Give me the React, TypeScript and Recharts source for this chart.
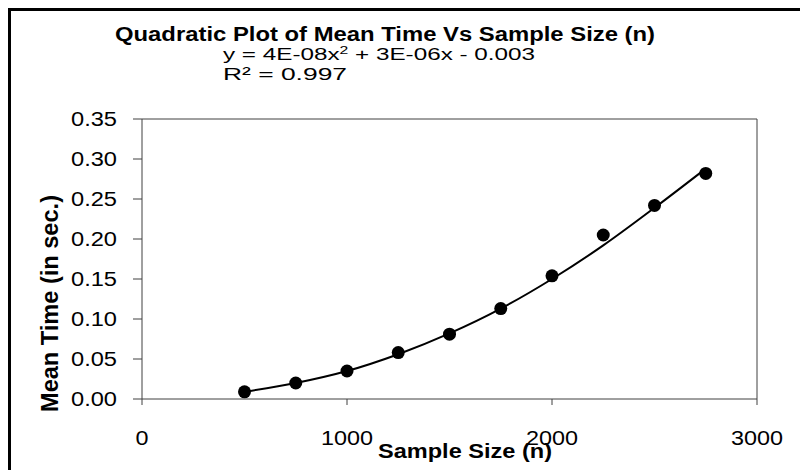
import { ComposedChart, Line, Scatter, XAxis, YAxis, ReferenceLine } from 'recharts'

// values
const sampleSizes = [500, 750, 1000, 1250, 1500, 1750, 2000, 2250, 2500, 2750]
const meanTimes = [0.009, 0.02, 0.035, 0.058, 0.081, 0.113, 0.154, 0.205, 0.242, 0.282]
const trendValues = [0.009, 0.02, 0.035, 0.056, 0.082, 0.113, 0.15, 0.192, 0.239, 0.288]
const xTicks = [0, 1000, 2000, 3000]
const yTicks = [0, 0.05, 0.1, 0.15, 0.2, 0.25, 0.3, 0.35]

const chartTitle = 'Quadratic Plot of Mean Time Vs Sample Size (n)'
const xLabel = 'Sample Size (n)'
const yLabel = 'Mean Time (in sec.)'

const points = sampleSizes.map((n, i) => ({ n, time: meanTimes[i] }))
const trend = sampleSizes.map((n, i) => ({ n, trend: trendValues[i] }))

const FONT = '"Liberation Sans", Arial, sans-serif'
const AXIS = '#404040'

function YTick({ x, y, payload }: any) {
  return (
    <text x={x} y={y} dy={7} textAnchor="end" fontSize={20} fontFamily={FONT} fill="#000"
      textLength={46} lengthAdjust="spacingAndGlyphs">
      {Number(payload.value).toFixed(2)}
    </text>
  )
}

function XTick({ x, y, payload }: any) {
  const label = String(payload.value)
  return (
    <text x={x} y={y} dy={36} textAnchor="middle" fontSize={21} fontFamily={FONT} fill="#000"
      textLength={label.length * 13} lengthAdjust="spacingAndGlyphs">
      {label}
    </text>
  )
}

function Dot({ cx, cy }: any) {
  return <circle cx={cx} cy={cy} r={6.5} fill="#000" />
}

export default function App() {
  return (
    <div style={{ position: 'fixed', left: 0, top: 0, width: 800, height: 470, overflow: 'hidden', background: '#fff' }}>
      <div style={{ position: 'absolute', left: 8, top: 8, width: 820, height: 500, border: '3px solid #000' }} />
      <div style={{ position: 'absolute', left: 0, top: 0 }}>
        <ComposedChart width={800} height={470} margin={{ top: 119, right: 43, bottom: 41, left: 82 }}>
          <XAxis
            type="number"
            dataKey="n"
            domain={[0, 3000]}
            ticks={xTicks}
            stroke={AXIS}
            tickSize={6}
            tickMargin={4}
            height={30}
            tick={<XTick />}
            allowDuplicatedCategory={false}
          />
          <YAxis
            type="number"
            domain={[0, 0.35]}
            ticks={yTicks}
            stroke={AXIS}
            tickSize={9}
            tickMargin={16}
            width={60}
            tick={<YTick />}
          />
          {/* plot-area box: top and right edges */}
          <ReferenceLine y={0.35} stroke={AXIS} strokeWidth={1} ifOverflow="visible" />
          <ReferenceLine x={3000} stroke={AXIS} strokeWidth={1} ifOverflow="visible" />
          <Line
            data={trend}
            dataKey="trend"
            type="monotone"
            stroke="#000"
            strokeWidth={2}
            dot={false}
            isAnimationActive={false}
          />
          <Scatter data={points} dataKey="time" fill="#000" shape={<Dot />} isAnimationActive={false} />
        </ComposedChart>
      </div>
      <svg width={800} height={470} style={{ position: 'absolute', left: 0, top: 0, pointerEvents: 'none' }}>
        <text x={115} y={41} fontSize={19.5} fontWeight="bold" fontFamily={FONT} fill="#000"
          textLength={540} lengthAdjust="spacingAndGlyphs">
          {chartTitle}
        </text>
        <text x={223} y={60} fontSize={17} fontFamily={FONT} fill="#000"
          textLength={312} lengthAdjust="spacingAndGlyphs">
          y = 4E-08x<tspan fontSize={11} dy={-6}>2</tspan><tspan dy={6}> + 3E-06x - 0.003</tspan>
        </text>
        <text x={223} y={80} fontSize={17} fontFamily={FONT} fill="#000"
          textLength={124} lengthAdjust="spacingAndGlyphs">
          R² = 0.997
        </text>
        <text x={465} y={458} textAnchor="middle" fontSize={21} fontWeight="bold" fontFamily={FONT} fill="#000"
          textLength={174} lengthAdjust="spacingAndGlyphs">
          {xLabel}
        </text>
        <text transform="translate(58,303.5) rotate(-90)" textAnchor="middle" fontSize={23} fontWeight="bold"
          fontFamily={FONT} fill="#000" textLength={217} lengthAdjust="spacingAndGlyphs">
          {yLabel}
        </text>
      </svg>
    </div>
  )
}
